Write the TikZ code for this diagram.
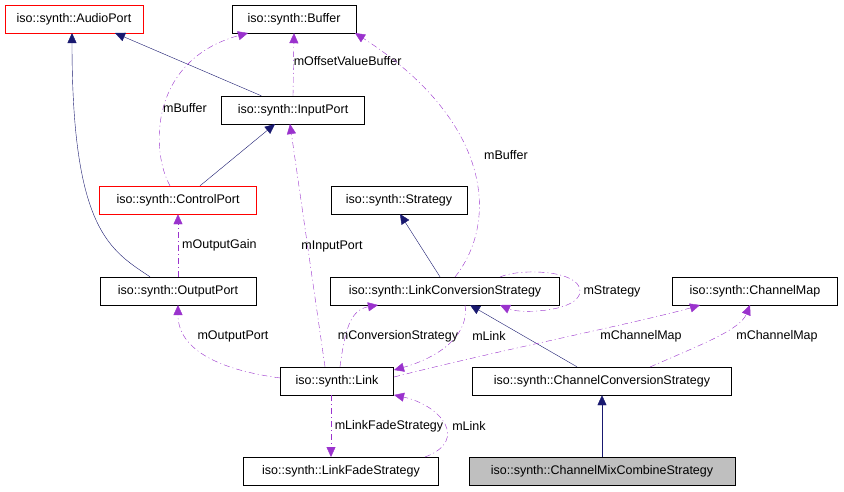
\documentclass[tikz,border=0pt]{standalone}
\usepackage{fontspec}
\setmainfont{Liberation Sans}
\usetikzlibrary{arrows.meta}
\begin{document}
\begin{tikzpicture}[x=1pt,y=-1pt,
 box/.style={draw=black,minimum height=28pt,inner sep=0pt,font=\fontsize{12.5}{14}\selectfont},
 redbox/.style={box,draw=red},
 inh/.style={draw={rgb,255:red,25;green,25;blue,112},-{Triangle[length=10pt,width=9pt,fill={rgb,255:red,25;green,25;blue,112}]}},
 use/.style={draw={rgb,255:red,154;green,50;blue,205},dash pattern=on 6pt off 3pt on 1pt off 3pt,-{Triangle[length=10pt,width=9pt,fill={rgb,255:red,154;green,50;blue,205}]}},
 lab/.style={font=\fontsize{12.5}{14}\selectfont,inner sep=1pt}]
\fill[white] (0,0) rectangle (844,491);
\useasboundingbox (0,0) rectangle (844,491);
\node[box,minimum width=124pt] (buf) at (294,19) {iso::synth::Buffer};
\node[redbox,minimum width=138pt] (ap) at (74,19) {iso::synth::AudioPort};
\node[box,minimum width=143pt] (ip) at (293,110) {iso::synth::InputPort};
\node[box,minimum width=136pt] (st) at (399,200) {iso::synth::Strategy};
\node[redbox,minimum width=157pt] (cp) at (178,200) {iso::synth::ControlPort};
\node[box,minimum width=156pt] (op) at (178,291) {iso::synth::OutputPort};
\node[box,minimum width=229pt] (lcs) at (445,291) {iso::synth::LinkConversionStrategy};
\node[box,minimum width=165pt] (cm) at (755,291) {iso::synth::ChannelMap};
\node[box,minimum width=113pt] (lk) at (337,381) {iso::synth::Link};
\node[box,minimum width=259pt] (ccs) at (602,381) {iso::synth::ChannelConversionStrategy};
\node[box,minimum width=195pt] (lfs) at (341,471) {iso::synth::LinkFadeStrategy};
\node[box,fill={rgb,255:red,191;green,191;blue,191},minimum width=266pt] (cmcs) at (602,471) {iso::synth::ChannelMixCombineStrategy};
% inheritance
\draw[inh] (ip.north west) ++(40,0) coordinate (a1) -- (115,33);
\draw[inh] (op.north) ++(-28,0) .. controls (110,250) and (72,230) .. (72,33);
\draw[inh] (cp.north) ++(22,0) -- (275,124);
\draw[inh] (lcs.north) ++(-5,0) -- (400,214);
\draw[inh] (ccs.north) ++(-25,0) -- (470,305);
\draw[inh] (cmcs) -- (ccs);
% usage
\draw[use] (ip.north) -- (buf.south) node[lab,pos=0.55,right=-1pt] {mOffsetValueBuffer};
\draw[use] (cp.north) ++(-8,0) .. controls (150,150) and (150,60) .. (248,33);
\node[lab] at (185,108) {mBuffer};
\draw[use] (op.north) -- (cp.south) node[lab,midway,right=3pt] {mOutputGain};
\draw[use] (lk.north) ++(-12,0) -- (290,124);
\node[lab] at (332,246) {mInputPort};
\draw[use] (lk.west) ++(0,-3) .. controls (220,370) and (178,350) .. (178,305);
\node[lab] at (233,336) {mOutputPort};
\draw[use] (lk.north) ++(3,0) .. controls (345,330) and (350,310) .. (378,305);
\node[lab] at (398,336) {mConversionStrategy};
\draw[use] (465,305) .. controls (470,340) and (430,360) .. (394,370);
\node[lab] at (489,336) {mLink};
\draw[use] (394,377) .. controls (500,350) and (650,320) .. (700,305);
\node[lab] at (641,336) {mChannelMap};
\draw[use] (650,367) .. controls (700,345) and (740,330) .. (750,305);
\node[lab] at (777,336) {mChannelMap};
\draw[use] (455,277) .. controls (500,220) and (490,120) .. (355,33);
\node[lab] at (506,155) {mBuffer};
\draw[use] (500,277) .. controls (520,268) and (580,270) .. (580,291) .. controls (580,312) and (520,314) .. (500,305);
\node[lab] at (612,291) {mStrategy};
\draw[use] (331,395) -- (331,457);
\node[lab] at (389,426) {mLinkFadeStrategy};
\draw[use] (425,457) .. controls (470,440) and (440,405) .. (394,395);
\node[lab] at (469,426) {mLink};
\end{tikzpicture}
\end{document}
